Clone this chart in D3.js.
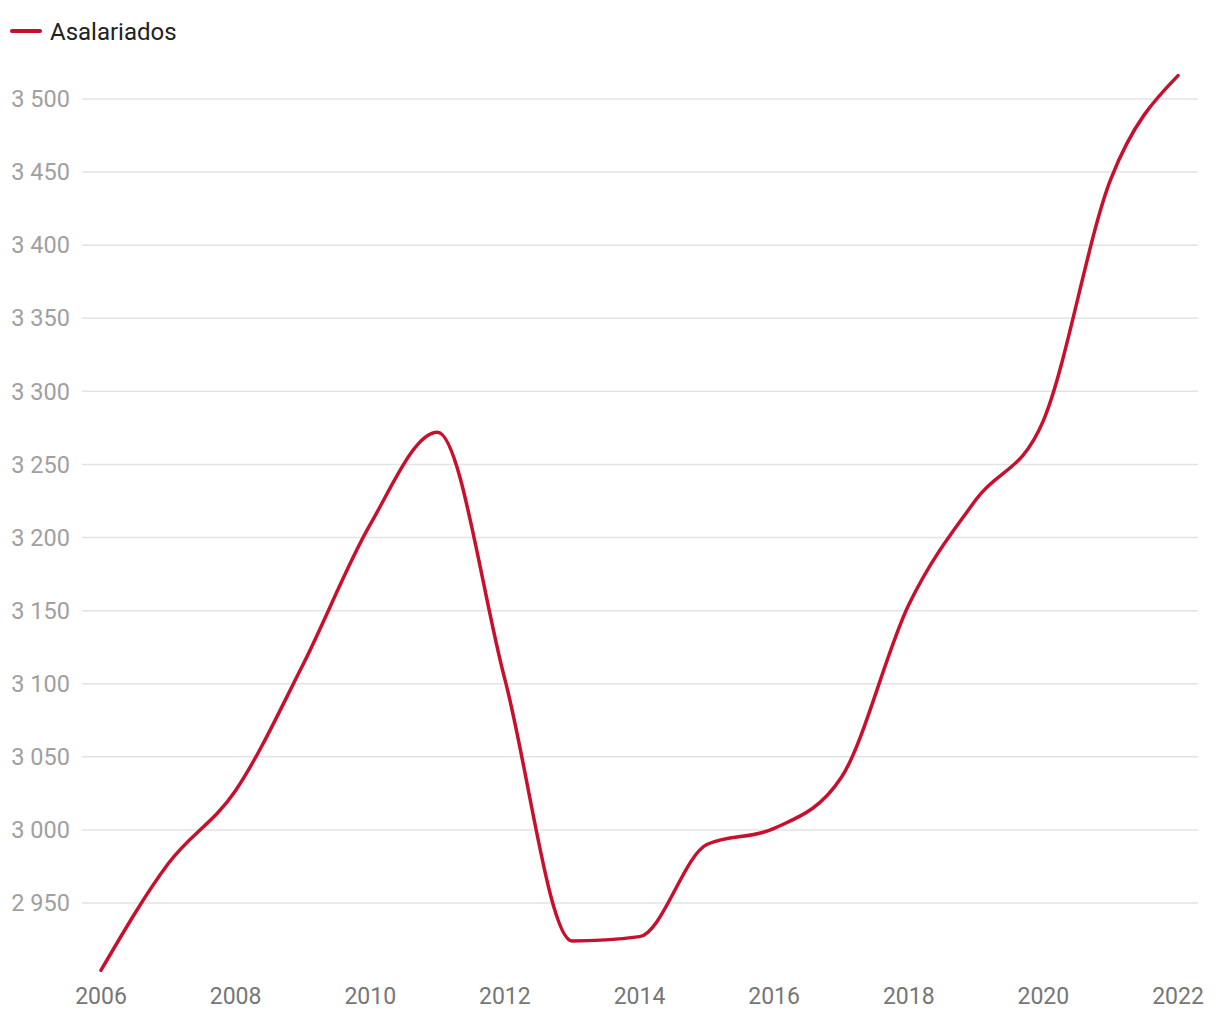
<!DOCTYPE html>
<html><head><meta charset="utf-8">
<script src="https://cdn.jsdelivr.net/npm/d3@7"></script>
<style>body{margin:0;background:#fff;font-family:Roboto,sans-serif}</style>
</head><body><svg id="c" width="1220" height="1020"></svg>
<script>
const years = [2006,2007,2008,2009,2010,2011,2012,2013,2014,2015,2016,2017,2018,2019,2020,2021,2022];
const asalariados = [2904,2977,3027,3113,3209,3272,3103,2924,2927,2990,3001,3036,3154,3226,3280,3445,3516];
const yTicks = [2950,3000,3050,3100,3150,3200,3250,3300,3350,3400,3450,3500];
const xTicks = [2006,2008,2010,2012,2014,2016,2018,2020,2022];
const seriesName = "Asalariados";
const color = "#c8102e";

const svg = d3.select("#c");
const x = d3.scaleLinear().domain([2006,2022]).range([101,1178]);
const y = d3.scaleLinear().domain([2950,3500]).range([903,99]);
const fmt = v => d3.format(",")(v).replace(/,/g," ");

// grid
svg.append("g").selectAll("line").data(yTicks).join("line")
  .attr("x1",82).attr("x2",1198)
  .attr("y1",d=>y(d)).attr("y2",d=>y(d))
  .attr("stroke","#e3e3e3").attr("stroke-width",1.5);
// y labels
svg.append("g").selectAll("text").data(yTicks).join("text")
  .attr("x",70).attr("y",d=>y(d)).attr("dy","0.35em")
  .attr("text-anchor","end").attr("fill","#a0a0a0")
  .style("font-size","23.5px").text(fmt);
// x labels
svg.append("g").selectAll("text").data(xTicks).join("text")
  .attr("x",d=>x(d)).attr("y",996).attr("dy","0.35em")
  .attr("text-anchor","middle").attr("fill","#767676")
  .style("font-size","23px").text(d=>d);
// line
const line = d3.line().x((d,i)=>x(years[i])).y(d=>y(d)).curve(d3.curveMonotoneX);
svg.append("path").datum(asalariados).attr("d",line)
  .attr("fill","none").attr("stroke",color).attr("stroke-width",3.5)
  .attr("stroke-linecap","round").attr("stroke-linejoin","round");
// legend
svg.append("line").attr("x1",12).attr("x2",40).attr("y1",31).attr("y2",31)
  .attr("stroke",color).attr("stroke-width",4).attr("stroke-linecap","round");
svg.append("text").attr("x",50).attr("y",32).attr("dy","0.35em")
  .attr("fill","#222").style("font-size","24px").text(seriesName);
</script></body></html>
